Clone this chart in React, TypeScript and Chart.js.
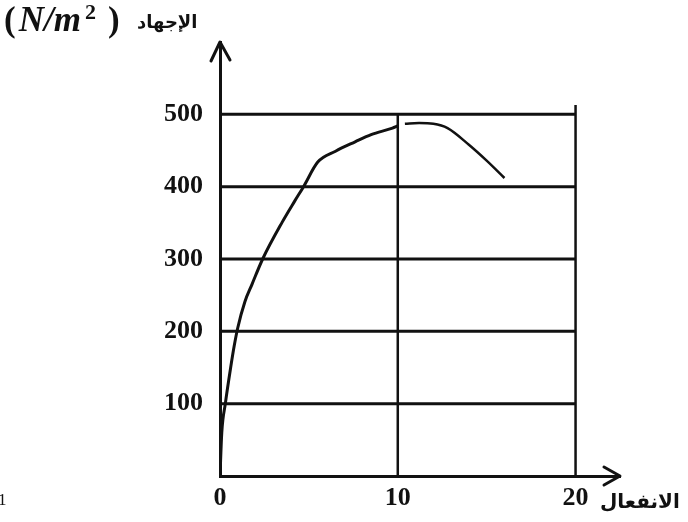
import React, { useEffect, useRef } from "react";
import { Chart, registerables } from "chart.js";

Chart.register(...registerables);

// Stress–strain curve data
const strainRising = [0, 0.1, 0.3, 0.6, 0.8, 1.0, 1.4, 1.8, 2.4, 3.5, 4.2, 4.7, 5.5, 6.5, 7.6, 8.5, 9.7, 10.0];
const stressRising = [0, 60, 100, 150, 180, 205, 241, 265, 300, 351, 380, 400, 434, 449, 462, 472, 481, 484];
const strainFalling = [10.4, 11.2, 12.0, 12.8, 14.0, 15.0, 16.0];
const stressFalling = [487, 488, 487, 481, 458, 436, 412];

// grid / axes
const gridStress = [100, 200, 300, 400, 500];
const gridStrainLines = [10, 20];
const gridStrainTops = [500, 513];
const gridStrainEnd = 20;
const yTicks = [100, 200, 300, 400, 500];
const xTicks = [0, 10, 20];
const xMax = 22.5;
const yMax = 600;

// texts
const yTitleUnitOpen = "(";
const yTitleUnitMain = "N/m";
const yTitleUnitSup = "2";
const yTitleUnitClose = ")";
const yTitleAr = "الإجهاد";
const xTitleAr = "الانفعال";
const strayText = "1";

const INK = "#111111";

export default function App() {
  const ref = useRef<HTMLCanvasElement | null>(null);

  useEffect(() => {
    const canvas = ref.current;
    if (!canvas) return;

    const lineDs = (data: { x: number; y: number }[], width: number) => ({
      data,
      borderColor: INK,
      borderWidth: width,
      pointRadius: 0,
      fill: false,
      tension: 0,
    });

    const datasets: any[] = [];
    gridStress.forEach((s) =>
      datasets.push(lineDs([{ x: 0, y: s }, { x: gridStrainEnd, y: s }], 3))
    );
    gridStrainLines.forEach((e, i) =>
      datasets.push(lineDs([{ x: e, y: 0 }, { x: e, y: gridStrainTops[i] }], 2.5))
    );
    datasets.push({
      ...lineDs(strainRising.map((x, i) => ({ x, y: stressRising[i] })), 3),
      cubicInterpolationMode: "monotone",
    });
    datasets.push({
      ...lineDs(strainFalling.map((x, i) => ({ x, y: stressFalling[i] })), 2.5),
      cubicInterpolationMode: "monotone",
    });

    const decor = {
      id: "decor",
      afterDraw(chart: any) {
        const ctx = chart.ctx as CanvasRenderingContext2D;
        const { left, right, top, bottom } = chart.chartArea;
        ctx.save();
        // arrowheads
        ctx.strokeStyle = INK;
        ctx.lineWidth = 3;
        ctx.lineCap = "round";
        ctx.lineJoin = "round";
        ctx.beginPath();
        ctx.moveTo(left - 9, top + 19);
        ctx.lineTo(left, top);
        ctx.lineTo(left + 10, top + 18);
        ctx.stroke();
        ctx.beginPath();
        ctx.moveTo(right - 16, bottom - 9);
        ctx.lineTo(right, bottom);
        ctx.lineTo(right - 16, bottom + 9);
        ctx.stroke();

        // y title
        ctx.fillStyle = INK;
        ctx.textBaseline = "alphabetic";
        ctx.textAlign = "left";
        let x = 4;
        const base = 31;
        ctx.font = 'bold 35px "Liberation Serif"';
        ctx.fillText(yTitleUnitOpen, x, base);
        x += ctx.measureText(yTitleUnitOpen).width + 3;
        ctx.font = 'italic bold 35px "Liberation Serif"';
        ctx.fillText(yTitleUnitMain, x, base);
        x += ctx.measureText(yTitleUnitMain).width + 4;
        ctx.font = 'bold 22px "Liberation Serif"';
        ctx.fillText(yTitleUnitSup, x, base - 12);
        x += ctx.measureText(yTitleUnitSup).width + 12;
        ctx.font = 'bold 35px "Liberation Serif"';
        ctx.fillText(yTitleUnitClose, x, base);

        ctx.font = 'bold 18px "DejaVu Sans"';
        ctx.textAlign = "left";
        ctx.fillText(yTitleAr, 137, 28);

        // x title
        ctx.font = 'bold 20px "DejaVu Sans"';
        ctx.fillText(xTitleAr, 600, 508);

        // stray character at left edge
        ctx.font = '17px "Liberation Serif"';
        ctx.fillText(strayText, -2, 505);
        ctx.restore();
      },
    };

    const chart = new Chart(canvas, {
      type: "line",
      data: { datasets },
      options: {
        animation: false,
        responsive: false,
        maintainAspectRatio: false,
        layout: { padding: { top: 42, right: 68, left: 0, bottom: 0 } },
        plugins: {
          legend: { display: false },
          tooltip: { enabled: false },
          title: { display: false },
        },
        scales: {
          x: {
            type: "linear",
            min: 0,
            max: xMax,
            grid: { display: false, drawTicks: false },
            border: { display: true, color: INK, width: 3 },
            afterBuildTicks: (scale: any) => {
              scale.ticks = xTicks.map((v) => ({ value: v }));
            },
            afterFit: (scale: any) => {
              scale.height = 46;
            },
            ticks: {
              color: INK,
              padding: 7,
              maxRotation: 0,
              autoSkip: false,
              font: { family: "Liberation Serif", size: 26, weight: "bold" },
              callback: (v: any) => String(v),
            },
          },
          y: {
            type: "linear",
            min: 0,
            max: yMax,
            grid: { display: false, drawTicks: false },
            border: { display: true, color: INK, width: 3 },
            afterBuildTicks: (scale: any) => {
              scale.ticks = yTicks.map((v) => ({ value: v }));
            },
            afterFit: (scale: any) => {
              scale.width = 220;
            },
            ticks: {
              color: INK,
              padding: 17,
              autoSkip: false,
              font: { family: "Liberation Serif", size: 26, weight: "bold" },
              callback: (v: any) => String(v),
            },
          },
        },
      } as any,
      plugins: [decor],
    });

    return () => chart.destroy();
  }, []);

  return (
    <div style={{ position: "absolute", left: 0, top: 0, width: 688, height: 522, background: "#fff" }}>
      <canvas ref={ref} width={688} height={522} style={{ display: "block" }} />
    </div>
  );
}
